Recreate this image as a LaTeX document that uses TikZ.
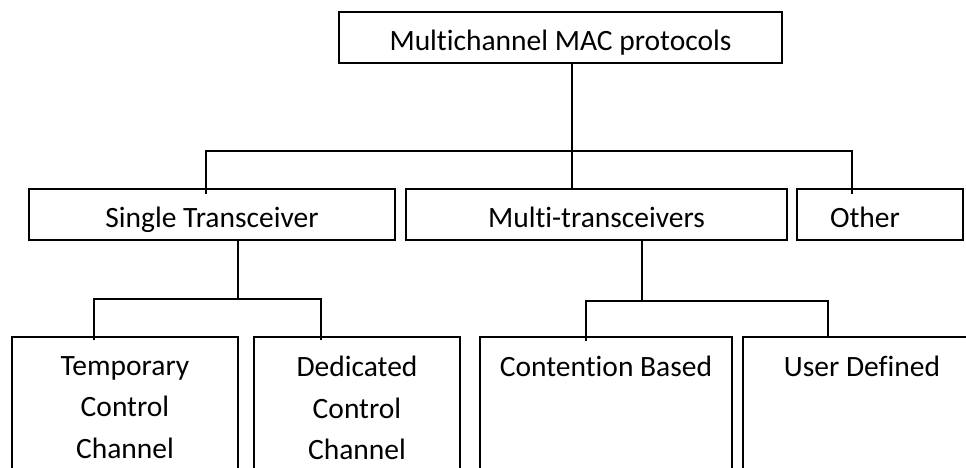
\documentclass[tikz,border=0pt]{standalone}
\usepackage{fontspec}
\setmainfont{Carlito}[Ligatures=NoCommon]
\begin{document}
\begin{tikzpicture}[x=1pt,y=-1pt,
  box/.style={draw, line width=2.2pt, inner sep=0pt, text height=26pt, text depth=0pt,
    font=\fontsize{29.5}{41.5}\selectfont},
  tallbox/.style={draw, line width=2.2pt, inner sep=0pt},
  txt/.style={inner sep=0pt, align=center, font=\fontsize{29.5}{41.5}\selectfont},
  link/.style={line width=2.2pt}]
\path[use as bounding box] (0,0) rectangle (966,468);
\clip (0,0) rectangle (966,468);
% row 1
\node[box, minimum width=443pt, minimum height=51pt] (top) at (560.5,37.5) {Multichannel MAC protocols};
% row 2
\node[box, minimum width=366pt, minimum height=51pt] (single) at (212,214.5) {Single Transceiver};
\node[box, minimum width=381pt, minimum height=51pt] (multi) at (596.5,214.5) {Multi-transceivers};
\node[box, minimum width=166pt, minimum height=51pt] (other) at (880,214.5) {Other\hspace*{30pt}};
% row 3
\node[tallbox, minimum width=226pt, minimum height=170pt, anchor=north] (tcc) at (125,336) {};
\node[tallbox, minimum width=206pt, minimum height=170pt, anchor=north] (dcc) at (357,336) {};
\node[tallbox, minimum width=252pt, minimum height=170pt, anchor=north] (cb) at (606,336) {};
\node[tallbox, minimum width=238pt, minimum height=170pt, anchor=north] (ud) at (862,336) {};
\node[txt, anchor=north] (tcct) at (tcc.north |- 0,356) {Temporary\\Control\\Channel};
\node[txt, anchor=north] (dcct) at (dcc.north |- 0,356) {Dedicated\\Control\\Channel};
\node[txt, anchor=north] (cbt) at (cb.north |- 0,356) {Contention Based};
\node[txt, anchor=north] (udt) at (ud.north |- 0,356) {User Defined};
% connectors
\coordinate (j1) at (572,151);
\coordinate (b1l) at (206,151);
\coordinate (b1r) at (852,151);
\draw[link] (top.south -| j1) -- (j1);
\draw[link] ([yshift=-6pt]b1l |- single.north) -- (b1l) -- (b1r) -- ([yshift=-6pt]b1r |- other.north);
\draw[link] (j1) -- (j1 |- multi.north);
\coordinate (j2) at (238,299);
\coordinate (b2l) at (94,299);
\coordinate (b2r) at (321,299);
\draw[link] (single.south -| j2) -- (j2);
\draw[link] ([yshift=-4pt]b2l |- tcc.north) -- (b2l) -- (b2r) -- ([yshift=-4pt]b2r |- dcc.north);
\coordinate (j3) at (642,301);
\coordinate (b3l) at (586,301);
\coordinate (b3r) at (828,301);
\draw[link] (multi.south -| j3) -- (j3);
\draw[link] ([yshift=-5pt]b3l |- cb.north) -- (b3l) -- (b3r) -- (b3r |- cb.north);
\end{tikzpicture}
\end{document}
